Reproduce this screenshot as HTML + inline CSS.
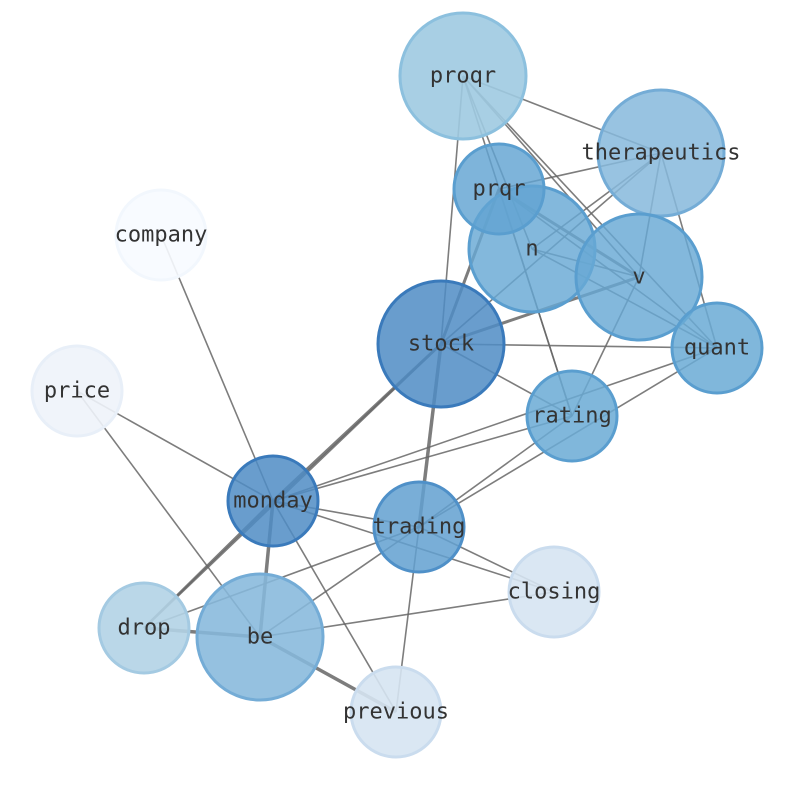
<!DOCTYPE html>
<html><head><meta charset="utf-8"><style>body{margin:0;background:#fff}svg{display:block}</style></head><body>
<svg width="794" height="790" viewBox="0 0 794 790" xmlns="http://www.w3.org/2000/svg">
<g stroke="#666" stroke-opacity="0.85" stroke-width="1.6" fill="none">
<line x1="463" y1="76" x2="441" y2="344"/>
<line x1="463" y1="76" x2="661" y2="153"/>
<line x1="463" y1="76" x2="532" y2="249"/>
<line x1="463" y1="76" x2="639" y2="277"/>
<line x1="463" y1="76" x2="717" y2="348"/>
<line x1="463" y1="76" x2="572" y2="416"/>
<line x1="661" y1="153" x2="499" y2="189"/>
<line x1="661" y1="153" x2="532" y2="249"/>
<line x1="661" y1="153" x2="441" y2="344"/>
<line x1="661" y1="153" x2="639" y2="277"/>
<line x1="661" y1="153" x2="717" y2="348"/>
<line x1="499" y1="189" x2="441" y2="344" stroke-width="3"/>
<line x1="499" y1="189" x2="639" y2="277" stroke-width="3"/>
<line x1="499" y1="189" x2="717" y2="348"/>
<line x1="499" y1="189" x2="572" y2="416"/>
<line x1="532" y1="249" x2="639" y2="277"/>
<line x1="532" y1="249" x2="717" y2="348"/>
<line x1="441" y1="344" x2="639" y2="277" stroke-width="3"/>
<line x1="441" y1="344" x2="717" y2="348"/>
<line x1="441" y1="344" x2="572" y2="416"/>
<line x1="441" y1="344" x2="273" y2="501" stroke-width="3"/>
<line x1="441" y1="344" x2="419" y2="527" stroke-width="3.5"/>
<line x1="441" y1="344" x2="144" y2="628" stroke-width="2.5"/>
<line x1="572" y1="416" x2="273" y2="501"/>
<line x1="572" y1="416" x2="419" y2="527"/>
<line x1="572" y1="416" x2="639" y2="277"/>
<line x1="717" y1="348" x2="419" y2="527"/>
<line x1="717" y1="348" x2="273" y2="501"/>
<line x1="273" y1="501" x2="161" y2="235"/>
<line x1="273" y1="501" x2="77" y2="391"/>
<line x1="273" y1="501" x2="419" y2="527"/>
<line x1="273" y1="501" x2="554" y2="592"/>
<line x1="273" y1="501" x2="396" y2="712"/>
<line x1="273" y1="501" x2="260" y2="637" stroke-width="3.5"/>
<line x1="273" y1="501" x2="144" y2="628" stroke-width="2.5"/>
<line x1="419" y1="527" x2="260" y2="637"/>
<line x1="419" y1="527" x2="554" y2="592"/>
<line x1="419" y1="527" x2="396" y2="712"/>
<line x1="419" y1="527" x2="144" y2="628"/>
<line x1="260" y1="637" x2="77" y2="391"/>
<line x1="260" y1="637" x2="554" y2="592"/>
<line x1="260" y1="637" x2="396" y2="712" stroke-width="3.5"/>
<line x1="260" y1="637" x2="144" y2="628" stroke-width="3.5"/>
</g>
<g stroke-width="3">
<circle cx="463" cy="76" r="63" fill="#9ecae1" fill-opacity="0.9" stroke="#8cc0de"/>
<circle cx="661" cy="153" r="63" fill="#86b8dc" fill-opacity="0.85" stroke="#74acd6"/>
<circle cx="532" cy="249" r="63" fill="#68a8d4" fill-opacity="0.82" stroke="#5a9ecf"/>
<circle cx="639" cy="277" r="63" fill="#68a8d4" fill-opacity="0.82" stroke="#5a9ecf"/>
<circle cx="499" cy="189" r="45" fill="#62a4d2" fill-opacity="0.82" stroke="#5a9ecf"/>
<circle cx="717" cy="348" r="45" fill="#6aaad5" fill-opacity="0.85" stroke="#5a9ecf"/>
<circle cx="441" cy="344" r="63" fill="#4f8cc4" fill-opacity="0.85" stroke="#3a7abb"/>
<circle cx="572" cy="416" r="45" fill="#6aaad5" fill-opacity="0.85" stroke="#5a9ecf"/>
<circle cx="273" cy="501" r="45" fill="#4f8cc4" fill-opacity="0.85" stroke="#3a7abb"/>
<circle cx="419" cy="527" r="45" fill="#62a0d0" fill-opacity="0.85" stroke="#4f90c8"/>
<circle cx="554" cy="592" r="45" fill="#d6e4f2" fill-opacity="0.9" stroke="#cadcee"/>
<circle cx="144" cy="628" r="45" fill="#b3d3e6" fill-opacity="0.9" stroke="#a4cae2"/>
<circle cx="260" cy="637" r="63" fill="#86b8dc" fill-opacity="0.88" stroke="#74acd6"/>
<circle cx="396" cy="712" r="45" fill="#d6e4f2" fill-opacity="0.9" stroke="#cadcee"/>
<circle cx="161" cy="235" r="45" fill="#f7fbff" fill-opacity="0.9" stroke="#f2f7fd"/>
<circle cx="77" cy="391" r="45" fill="#eef3fa" fill-opacity="0.9" stroke="#e8eff8"/>
</g>
<g font-family="'DejaVu Sans Mono','Liberation Mono',monospace" font-size="22" fill="#333" text-anchor="middle" dominant-baseline="central">
<text x="463" y="76">proqr</text>
<text x="661" y="153">therapeutics</text>
<text x="499" y="189">prqr</text>
<text x="532" y="249">n</text>
<text x="639" y="277">v</text>
<text x="717" y="348">quant</text>
<text x="441" y="344">stock</text>
<text x="572" y="416">rating</text>
<text x="273" y="501">monday</text>
<text x="419" y="527">trading</text>
<text x="554" y="592">closing</text>
<text x="144" y="628">drop</text>
<text x="260" y="637">be</text>
<text x="396" y="712">previous</text>
<text x="161" y="235">company</text>
<text x="77" y="391">price</text>
</g>
</svg>
</body></html>
